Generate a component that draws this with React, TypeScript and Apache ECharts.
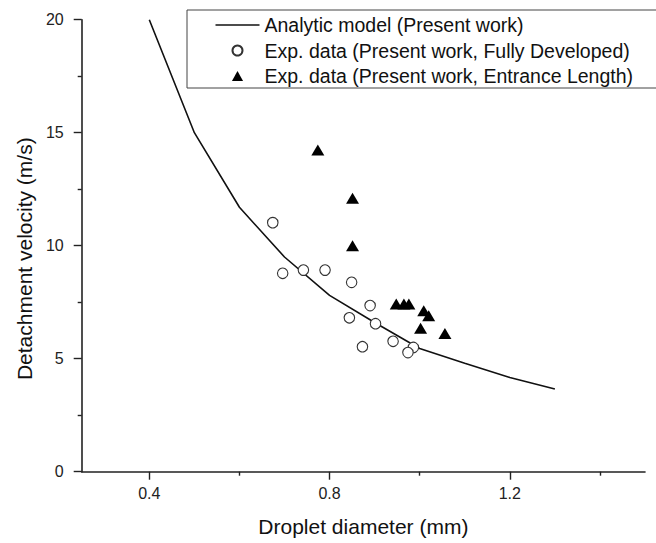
import React, { useEffect, useRef } from "react";
import * as echarts from "echarts";

// Analytic model curve (Present work)
const curveX = [0.4, 0.5, 0.6, 0.7, 0.8, 0.9, 1.0, 1.1, 1.2, 1.3];
const curveY = [20, 15, 11.7, 9.5, 7.8, 6.6, 5.45, 4.8, 4.17, 3.66];

// Exp. data (Present work, Fully Developed)
const fdX = [0.674, 0.696, 0.742, 0.79, 0.849, 0.89, 0.844, 0.902, 0.873, 0.941, 0.986, 0.974];
const fdY = [11.02, 8.78, 8.92, 8.92, 8.38, 7.35, 6.81, 6.55, 5.53, 5.77, 5.5, 5.27];

// Exp. data (Present work, Entrance Length)
const elX = [0.774, 0.851, 0.851, 0.948, 0.965, 0.976, 1.009, 1.02, 1.002, 1.056];
const elY = [14.23, 12.1, 10.0, 7.42, 7.42, 7.42, 7.12, 6.9, 6.35, 6.11];

const xMajorTicks = [0.4, 0.8, 1.2];
const xMinorTicks = [0.6, 1.0, 1.4];

const seriesNames = [
  "Analytic model (Present work)",
  "Exp. data (Present work, Fully Developed)",
  "Exp. data (Present work, Entrance Length)",
];

const FONT = "'Liberation Sans', Arial, Helvetica, sans-serif";

export default function App() {
  const ref = useRef<HTMLDivElement>(null);

  useEffect(() => {
    if (!ref.current) return;
    const chart = echarts.init(ref.current, null, { renderer: "svg" });
    const zip = (xs: number[], ys: number[]) => xs.map((x, i) => [x, ys[i]]);
    chart.setOption({
      animation: false,
      backgroundColor: "#fff",
      textStyle: { fontFamily: FONT },
      grid: {
        left: 81.7,
        right: 11,
        top: 19.7,
        bottom: 71.3,
        containLabel: false,
        outerBoundsMode: "none",
      },
      legend: {
        orient: "vertical",
        left: 187,
        top: 10,
        padding: [5, 48, 2, 28.5],
        itemGap: 5.5,
        itemWidth: 44,
        itemHeight: 10,
        symbolKeepAspect: true,
        borderColor: "#444",
        borderWidth: 1,
        backgroundColor: "#fff",
        textStyle: { fontFamily: FONT, fontSize: 19.5, color: "#111" },
        data: [
          { name: seriesNames[0], icon: "path://M0,0 H44 V1.6 H0 Z", itemStyle: { color: "#111" } },
          { name: seriesNames[1], icon: "circle" },
          { name: seriesNames[2], icon: "path://M5,0 L10,9 L0,9 Z" },
        ],
      },
      xAxis: [
        {
          type: "value",
          min: 0.25,
          max: 1.5,
          name: "Droplet diameter (mm)",
          nameLocation: "middle",
          nameGap: 44,
          nameTextStyle: { fontFamily: FONT, fontSize: 21, color: "#111" },
          axisLine: { show: true, onZero: false, lineStyle: { color: "#222", width: 1.6 } },
          axisTick: {
            show: true,
            inside: false,
            length: 8,
            customValues: xMajorTicks,
            lineStyle: { color: "#222", width: 1.4 },
          },
          axisLabel: {
            show: true,
            customValues: xMajorTicks,
            margin: 14,
            fontFamily: FONT,
            fontSize: 16,
            color: "#222",
            formatter: (v: number) => v.toFixed(1),
          },
          splitLine: { show: false },
        },
        {
          type: "value",
          min: 0.25,
          max: 1.5,
          position: "bottom",
          axisLine: { show: false },
          axisTick: {
            show: true,
            inside: false,
            length: 4,
            customValues: xMinorTicks,
            lineStyle: { color: "#222", width: 1.4 },
          },
          axisLabel: { show: false },
          splitLine: { show: false },
        },
      ],
      yAxis: {
        type: "value",
        min: 0,
        max: 20,
        interval: 5,
        name: "Detachment velocity (m/s)",
        nameLocation: "middle",
        nameGap: 45,
        nameTextStyle: { fontFamily: FONT, fontSize: 21, color: "#111", padding: [0, 26, 0, 0] },
        axisLine: { show: true, onZero: false, lineStyle: { color: "#222", width: 1.6 } },
        axisTick: { show: true, inside: false, length: 8, lineStyle: { color: "#222", width: 1.4 } },
        minorTick: { show: true, splitNumber: 2, length: 4, lineStyle: { color: "#222", width: 1.4 } },
        axisLabel: { margin: 18, fontFamily: FONT, fontSize: 16, color: "#222" },
        splitLine: { show: false },
      },
      series: [
        {
          name: seriesNames[0],
          type: "line",
          xAxisIndex: 0,
          data: zip(curveX, curveY),
          symbol: "none",
          showSymbol: false,
          lineStyle: { color: "#111", width: 1.6 },
          itemStyle: { color: "#111" },
          z: 2,
        },
        {
          name: seriesNames[1],
          type: "scatter",
          xAxisIndex: 0,
          data: zip(fdX, fdY),
          symbol: "circle",
          symbolSize: 10.5,
          itemStyle: { color: "#fff", borderColor: "#333", borderWidth: 1.1, opacity: 1 },
          z: 3,
        },
        {
          name: seriesNames[2],
          type: "scatter",
          xAxisIndex: 0,
          data: zip(elX, elY),
          symbol: "triangle",
          symbolSize: [13, 11],
          itemStyle: { color: "#000", opacity: 1 },
          z: 4,
        },
      ],
    });
    return () => chart.dispose();
  }, []);

  return (
    <div
      ref={ref}
      style={{ position: "fixed", left: 0, top: 0, width: 656, height: 543, background: "#fff" }}
    />
  );
}
